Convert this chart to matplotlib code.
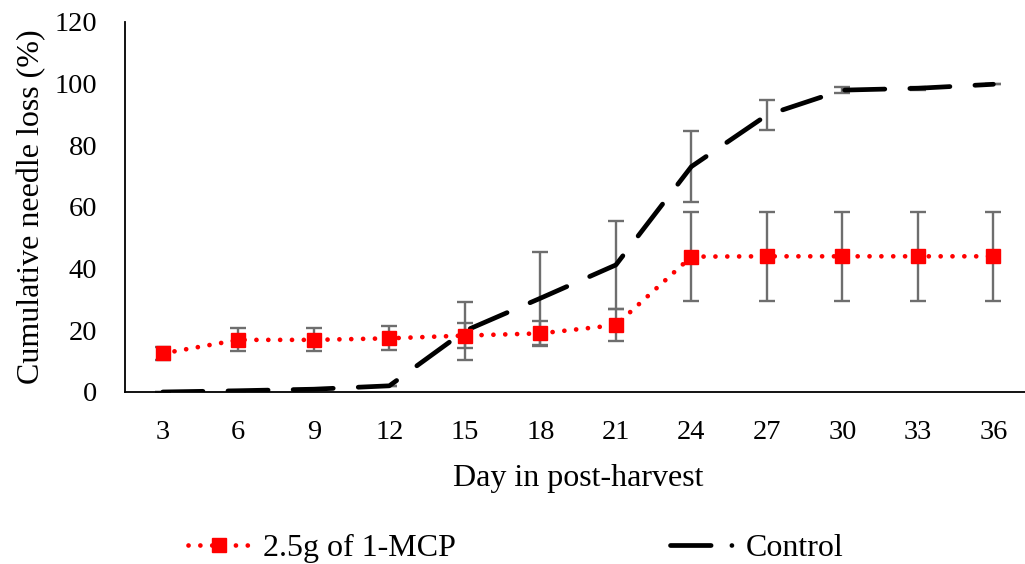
import matplotlib
matplotlib.use("Agg")
import matplotlib.pyplot as plt
from matplotlib.lines import Line2D

# data
days = [3, 6, 9, 12, 15, 18, 21, 24, 27, 30, 33, 36]
mcp = [12.5, 16.9, 16.9, 17.4, 18.3, 19.0, 21.7, 43.9, 44.0, 44.0, 44.0, 44.0]
mcp_err = [2.0, 3.7, 3.7, 3.9, 4.0, 4.1, 5.1, 14.5, 14.5, 14.5, 14.5, 14.5]
control = [0.0, 0.4, 0.9, 2.0, 19.8, 30.4, 41.2, 73.1, 89.8, 97.9, 98.5, 99.8]
control_err = [0.0, 0.0, 0.0, 0.0, 9.5, 15.1, 14.4, 11.5, 4.9, 1.0, 0.5, 0.0]

plt.rcParams['font.family'] = ['Liberation Serif', 'DejaVu Serif']

fig = plt.figure(figsize=(10.25, 5.64), dpi=100)
ax = fig.add_axes([0.122, 0.305, 0.884, 0.656])

grey = '#6e6e6e'
ax.errorbar(days, control, yerr=control_err, fmt='none', ecolor=grey,
            elinewidth=1.7, capsize=5.5, capthick=1.7, zorder=1)
ax.errorbar(days, mcp, yerr=mcp_err, fmt='none', ecolor=grey,
            elinewidth=1.7, capsize=5.5, capthick=1.7, zorder=1)

ax.plot(days, control, color='black', lw=3.4, dashes=(8.5, 5.3),
        dash_capstyle='round', zorder=2)
ax.plot(days, mcp, color='red', lw=3.4, dashes=(0.01, 2.5),
        dash_capstyle='round', marker='s', markersize=10, zorder=3)

ax.set_xlim(1.5, 37.5)
ax.set_ylim(0, 120)
ax.set_xticks(days)
ax.set_yticks(range(0, 121, 20))
ax.tick_params(axis='both', length=0, labelsize=20.5)
ax.tick_params(axis='x', pad=20)
ax.tick_params(axis='y', pad=20)
for s in ['top', 'right']:
    ax.spines[s].set_visible(False)
ax.spines['left'].set_linewidth(1.3)
ax.spines['bottom'].set_linewidth(1.3)

ax.set_xlabel('Day in post-harvest', fontsize=23, labelpad=14)
ax.set_ylabel('Cumulative needle loss (%)', fontsize=23, labelpad=6)

# legend handles, Control one shows the dash + dot like the original
h1 = Line2D([], [], color='red', lw=3.4, dashes=(0.01, 2.5),
            dash_capstyle='round', marker='s', markersize=10)
h2 = Line2D([], [], color='black', lw=3.4, dashes=(8.6, 4.4, 0.01, 5),
            dash_capstyle='round')
fig.legend([h1, h2], ['2.5g of 1-MCP', 'Control'], loc='center',
           bbox_to_anchor=(0.503, 0.028), ncol=2, frameon=False,
           fontsize=23, handlelength=2.0, columnspacing=6.7,
           handletextpad=0.37)

fig.savefig('out.png', dpi=100)
